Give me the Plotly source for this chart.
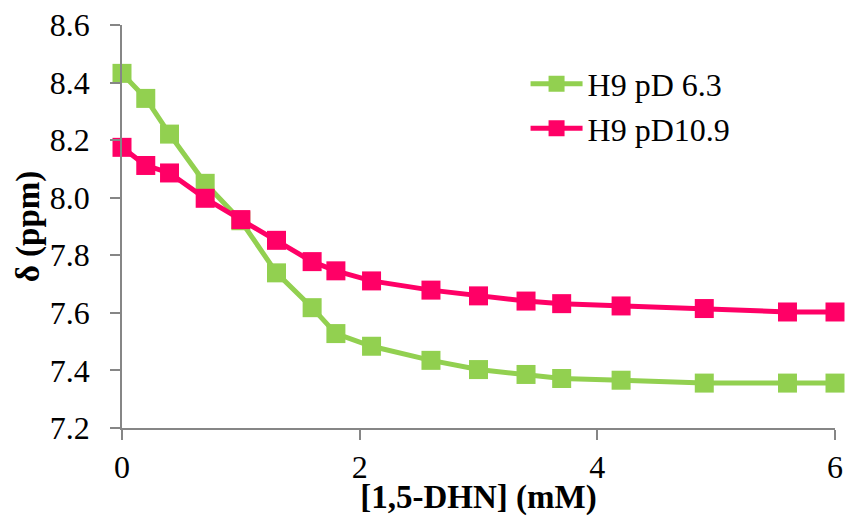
import plotly.graph_objects as go

# 1,5-DHN concentration (mM)
conc = [0, 0.2, 0.4, 0.7, 1.0, 1.3, 1.6, 1.8, 2.1, 2.6, 3.0, 3.4, 3.7, 4.2, 4.9, 5.6, 6.0]

# chemical shift of H9 (ppm)
h9_pd63 = [8.432, 8.345, 8.221, 8.050, 7.920, 7.739, 7.618, 7.528, 7.484, 7.435,
           7.403, 7.386, 7.372, 7.366, 7.356, 7.356, 7.356]
h9_pd109 = [8.175, 8.112, 8.086, 7.998, 7.924, 7.852, 7.778, 7.746, 7.711, 7.679,
            7.659, 7.641, 7.632, 7.624, 7.615, 7.603, 7.603]

series_names = ["H9 pD 6.3", "H9 pD10.9"]
series_colors = ["#92D050", "#FF0066"]

y_ticks = [7.2, 7.4, 7.6, 7.8, 8.0, 8.2, 8.4, 8.6]
x_ticks = [0, 2, 4, 6]

FONT = "Liberation Serif"
AXIS_GRAY = "#868686"

fig = go.Figure()
for name, ys, color in zip(series_names, [h9_pd63, h9_pd109], series_colors):
    fig.add_trace(go.Scatter(
        x=conc, y=ys, name=name, mode="lines+markers",
        line=dict(color=color, width=5),
        marker=dict(symbol="square", size=19, color=color),
        cliponaxis=False,
    ))

fig.update_layout(
    width=846, height=516,
    margin=dict(l=122, r=11, t=25, b=88),
    plot_bgcolor="white", paper_bgcolor="white",
    font=dict(family=FONT, size=32, color="black"),
    legend=dict(
        x=0.566, y=0.922, xanchor="left", yanchor="top",
        font=dict(family=FONT, size=32, color="black"),
        itemwidth=52, bgcolor="rgba(0,0,0,0)",
        tracegroupgap=0,
    ),
)

fig.update_xaxes(
    range=[0, 6], tickvals=x_ticks, ticktext=[str(v) for v in x_ticks],
    automargin=False,
    showgrid=False, zeroline=False,
    showline=True, linecolor=AXIS_GRAY, linewidth=1.5,
    ticks="outside", ticklen=10, tickwidth=1.5, tickcolor=AXIS_GRAY,
    ticklabelstandoff=0,
    tickfont=dict(family=FONT, size=32, color="black"),
    title=dict(text="<b>[1,5-DHN] (mM)</b>", standoff=0,
               font=dict(family=FONT, size=33, color="black")),
)
fig.update_yaxes(
    range=[7.2, 8.6], tickvals=y_ticks, ticktext=[f"{v:.1f}" for v in y_ticks],
    automargin=False,
    showgrid=False, zeroline=False,
    showline=True, linecolor=AXIS_GRAY, linewidth=1.5,
    ticks="outside", ticklen=10, tickwidth=1.5, tickcolor=AXIS_GRAY,
    ticklabelstandoff=14,
    tickfont=dict(family=FONT, size=32, color="black"),
    title=dict(text="<b>δ (ppm)</b>", standoff=0,
               font=dict(family=FONT, size=33, color="black")),
)

fig.write_html("out.html")
